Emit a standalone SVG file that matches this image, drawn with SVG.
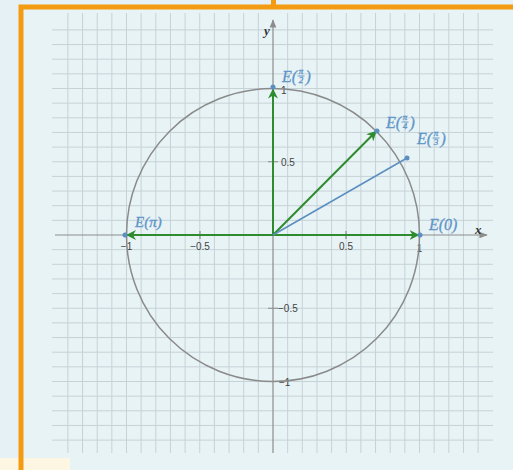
<svg xmlns="http://www.w3.org/2000/svg" width="513" height="470" viewBox="0 0 513 470">
<style>
.grid{stroke:#c6d2d6;stroke-width:1;fill:none}
.axis{stroke:#8c8c8c;stroke-width:1.2;fill:none}
.vec{stroke:#2e8b2e;stroke-width:2;fill:none}
.lbl{font-family:"Liberation Serif",serif;font-style:italic;fill:#5f95c8;stroke:#5f95c8;stroke-width:0.3}
.tick{font-family:"Liberation Sans",Arial,sans-serif;font-size:10px;fill:#444}
.ax{font-family:"Liberation Serif",serif;font-style:italic;font-weight:bold;font-size:13px;fill:#333}
</style>
<defs>
<marker id="ga" viewBox="0 0 10 10" refX="9" refY="5" markerWidth="5" markerHeight="5" orient="auto" markerUnits="strokeWidth">
<path d="M0,0 L10,5 L0,10 L3,5 Z" fill="#2e8b2e"/>
</marker>
<marker id="aa" viewBox="0 0 10 10" refX="9" refY="5" markerWidth="7" markerHeight="7" orient="auto" markerUnits="strokeWidth">
<path d="M0,1 L10,5 L0,9 Z" fill="#8c8c8c"/>
</marker>
</defs>
<rect width="513" height="470" fill="#e6f1f5"/>
<rect x="21" y="7" width="492" height="463" fill="#e8f3f6"/>
<rect x="0" y="458" width="70" height="12" fill="#fdf6e2"/>
<g id="grid">
<path class="grid" d="M67.9,13V453M82.55,13V453M97.2,13V453M111.85,13V453M126.5,13V453M141.15,13V453M155.8,13V453M170.45,13V453M185.1,13V453M199.75,13V453M214.4,13V453M229.05,13V453M243.7,13V453M258.35,13V453M287.65,13V453M302.3,13V453M316.95,13V453M331.6,13V453M346.25,13V453M360.9,13V453M375.55,13V453M390.2,13V453M404.85,13V453M419.5,13V453M434.15,13V453M448.8,13V453M463.45,13V453M478.1,13V453"/>
<path class="grid" d="M52,29.9H493M52,44.55H493M52,59.2H493M52,73.85H493M52,88.5H493M52,103.15H493M52,117.8H493M52,132.45H493M52,147.1H493M52,161.75H493M52,176.4H493M52,191.05H493M52,205.7H493M52,220.35H493M52,249.65H493M52,264.3H493M52,278.95H493M52,293.6H493M52,308.25H493M52,322.9H493M52,337.55H493M52,352.2H493M52,366.85H493M52,381.5H493M52,396.15H493M52,410.8H493M52,425.45H493M52,440.1H493"/>
</g>
<g id="axes">
<path class="axis" d="M55,235H487" marker-end="url(#aa)"/>
<path class="axis" d="M273,453V20" marker-end="url(#aa)"/>
<path class="axis" d="M200,231V239M346,231V239M126.5,231V239M419.5,231V239M268,161.75H278M268,308.25H278M268,88.5H278M268,381.5H278"/>
<text class="ax" x="475" y="234">x</text>
<text class="ax" x="264" y="35">y</text>
<text class="tick" x="126.5" y="250" text-anchor="middle">−1</text>
<text class="tick" x="200" y="250" text-anchor="middle">−0.5</text>
<text class="tick" x="346" y="250" text-anchor="middle">0.5</text>
<text class="tick" x="419.5" y="252" text-anchor="middle">1</text>
<text class="tick" x="281" y="94">1</text>
<text class="tick" x="281" y="165.5">0.5</text>
<text class="tick" x="278" y="311.5">−0.5</text>
<text class="tick" x="279" y="385.5">−1</text>
</g>
<g id="circle">
<circle cx="273" cy="235" r="146.5" fill="none" stroke="#8a8a8a" stroke-width="1.5"/>
</g>
<g id="connectors">
<path class="vec" d="M273,235V89.5" marker-end="url(#ga)"/>
<path class="vec" d="M273,235H418.5" marker-end="url(#ga)"/>
<path class="vec" d="M273,235H127" marker-end="url(#ga)"/>
<path class="vec" d="M273,235L376,131.5" marker-end="url(#ga)"/>
<path d="M273,235L407,158" stroke="#5b8fc0" stroke-width="1.5" fill="none"/>
</g>
<g id="points" fill="#5b8fc0">
<circle cx="273" cy="87" r="2.5"/>
<circle cx="420" cy="235" r="2.5"/>
<circle cx="125" cy="235" r="2.5"/>
<circle cx="377" cy="131" r="2.5"/>
<circle cx="407" cy="158" r="2.5"/>
</g>
<g id="E_pi2">
<text class="lbl" x="282" y="82" font-size="16">E(</text>
<text class="lbl" x="301" y="74" font-size="9" text-anchor="middle">π</text>
<path d="M297.5,76H304.5" stroke="#5f95c8" stroke-width="0.9"/>
<text class="lbl" x="301" y="83" font-size="9" text-anchor="middle">2</text>
<text class="lbl" x="305.5" y="82" font-size="16">)</text>
</g>
<g id="E_pi4">
<text class="lbl" x="386" y="128" font-size="16">E(</text>
<text class="lbl" x="405" y="120" font-size="9" text-anchor="middle">π</text>
<path d="M401.5,122H408.5" stroke="#5f95c8" stroke-width="0.9"/>
<text class="lbl" x="405" y="129" font-size="9" text-anchor="middle">4</text>
<text class="lbl" x="409.5" y="128" font-size="16">)</text>
</g>
<g id="E_pi3">
<text class="lbl" x="417" y="144" font-size="16">E(</text>
<text class="lbl" x="436" y="136" font-size="9" text-anchor="middle">π</text>
<path d="M432.5,138H439.5" stroke="#5f95c8" stroke-width="0.9"/>
<text class="lbl" x="436" y="145" font-size="9" text-anchor="middle">3</text>
<text class="lbl" x="440.5" y="144" font-size="16">)</text>
</g>
<g id="E_pi">
<text class="lbl" x="135" y="227" font-size="15">E(π)</text>
</g>
<g id="E_0">
<text class="lbl" x="429" y="230" font-size="16">E(0)</text>
</g>
<g id="frame" fill="none" stroke="#f39c12" stroke-width="5">
<path d="M21,470V7H513"/>
<path d="M273.5,0V7" stroke-width="5"/>
</g>
</svg>
